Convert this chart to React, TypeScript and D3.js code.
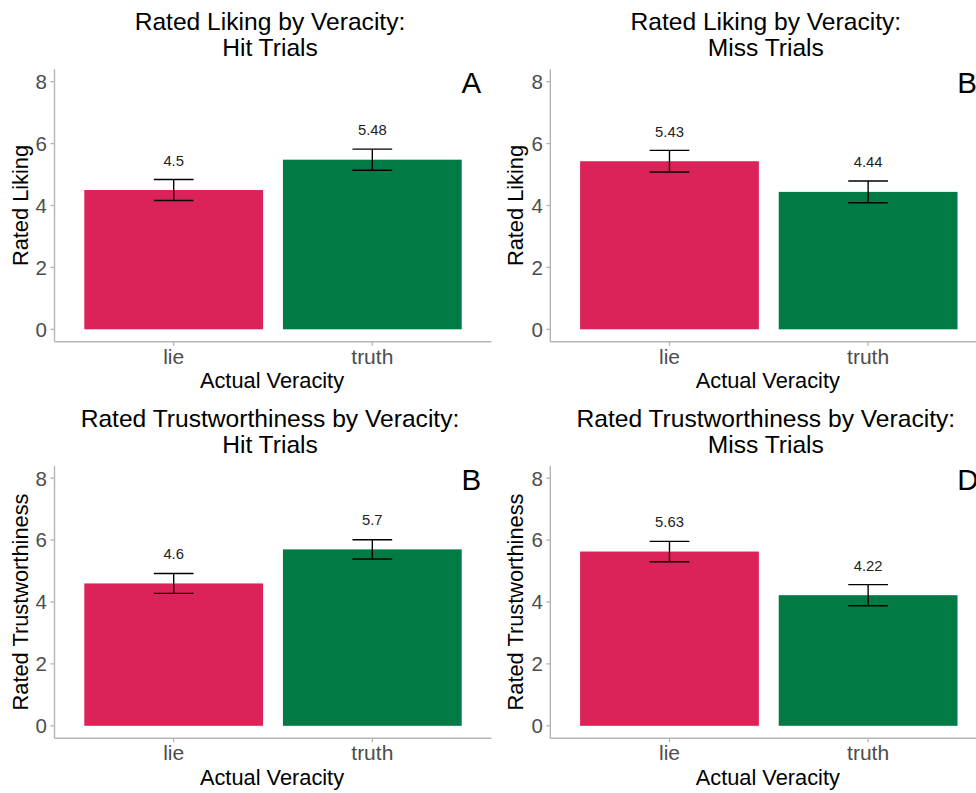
import React from "react";
import * as d3 from "d3";

const categories = ["lie", "truth"];
const likingHit = [4.5, 5.48];
const likingHitSE = [0.34, 0.34];
const likingMiss = [5.43, 4.44];
const likingMissSE = [0.35, 0.35];
const trustHit = [4.6, 5.7];
const trustHitSE = [0.32, 0.31];
const trustMiss = [5.63, 4.22];
const trustMissSE = [0.33, 0.34];
const yTicks = [0, 2, 4, 6, 8];
const valueLabels = [
  ["4.5", "5.48"],
  ["5.43", "4.44"],
  ["4.6", "5.7"],
  ["5.63", "4.22"],
];
const titles = [
  ["Rated Liking by Veracity:", "Hit Trials"],
  ["Rated Liking by Veracity:", "Miss Trials"],
  ["Rated Trustworthiness by Veracity:", "Hit Trials"],
  ["Rated Trustworthiness by Veracity:", "Miss Trials"],
];
const yTitles = ["Rated Liking", "Rated Liking", "Rated Trustworthiness", "Rated Trustworthiness"];
const panelLetters = ["A", "B", "B", "D"];
const xTitle = "Actual Veracity";

const values = [likingHit, likingMiss, trustHit, trustMiss];
const errors = [likingHitSE, likingMissSE, trustHitSE, trustMissSE];

const colors = ["#DC2359", "#017A44"];
const FONT = "'Liberation Sans', Arial, Helvetica, sans-serif";

function Panel({ idx }: { idx: number }) {
  const col = idx % 2;
  const row = Math.floor(idx / 2);
  const dx = col * 495.8;
  const dy = row * 396.5;
  const x0 = 54.5 + dx;
  const x1 = 491.5 + dx;
  const yBottom = 341.7 + dy;
  const yTop = 69.3 + dy;
  const x = d3.scaleBand<string>().domain(categories).range([x0, x1]).paddingInner(0.1).paddingOuter(0.15);
  const y = d3.scaleLinear().domain([-0.4, 8.4]).range([yBottom, yTop]);
  const vals = values[idx];
  const errs = errors[idx];
  const ebw = x.step() * 0.2;
  const cx = (x0 + x1) / 2;
  return (
    <g>
      <text x={cx - 3} y={30 + dy} textAnchor="middle" fontSize={24.6} fill="#000" fontFamily={FONT}>
        {titles[idx][0]}
      </text>
      <text x={cx - 3} y={56 + dy} textAnchor="middle" fontSize={24.6} fill="#000" fontFamily={FONT}>
        {titles[idx][1]}
      </text>
      {categories.map((c, i) => {
        const v = vals[i];
        const bx = x(c)!;
        const bw = x.bandwidth();
        const mx = bx + bw / 2;
        return (
          <g key={c}>
            <rect x={bx} y={y(v)} width={bw} height={y(0) - y(v)} fill={colors[i]} />
            <line x1={mx} x2={mx} y1={y(v + errs[i])} y2={y(v - errs[i])} stroke="#000" strokeWidth={1.4} />
            <line x1={mx - ebw / 2} x2={mx + ebw / 2} y1={y(v + errs[i])} y2={y(v + errs[i])} stroke="#000" strokeWidth={1.4} />
            <line x1={mx - ebw / 2} x2={mx + ebw / 2} y1={y(v - errs[i])} y2={y(v - errs[i])} stroke="#000" strokeWidth={1.4} />
            <text x={mx} y={y(v) - 24.5} textAnchor="middle" fontSize={14.8} fill="#222" fontFamily={FONT}>
              {valueLabels[idx][i]}
            </text>
            <line x1={mx} x2={mx} y1={yBottom} y2={yBottom + 4} stroke="#b5b5b5" strokeWidth={1.3} />
            <text x={mx} y={yBottom + 21.8} textAnchor="middle" fontSize={21} fill="#4d4d4d" fontFamily={FONT}>
              {c}
            </text>
          </g>
        );
      })}
      <line x1={x0} x2={x0} y1={yTop} y2={yBottom} stroke="#b5b5b5" strokeWidth={1.4} />
      <line x1={x0} x2={x1} y1={yBottom} y2={yBottom} stroke="#b5b5b5" strokeWidth={1.4} />
      {yTicks.map((t) => (
        <g key={t}>
          <line x1={x0 - 4} x2={x0} y1={y(t)} y2={y(t)} stroke="#b5b5b5" strokeWidth={1.3} />
          <text x={x0 - 7.5} y={y(t)} dy="0.36em" textAnchor="end" fontSize={20.5} fill="#4d4d4d" fontFamily={FONT}>
            {t}
          </text>
        </g>
      ))}
      <text
        transform={`translate(${27.5 + dx},${(yTop + yBottom) / 2}) rotate(-90)`}
        textAnchor="middle"
        fontSize={21.8}
        fill="#000"
        fontFamily={FONT}
      >
        {yTitles[idx]}
      </text>
      <text x={cx - 1} y={388.3 + dy} textAnchor="middle" fontSize={21.8} fill="#000" fontFamily={FONT}>
        {xTitle}
      </text>
      <text x={461.5 + dx} y={93.3 + dy} fontSize={29.5} fill="#000" fontFamily={FONT}>
        {panelLetters[idx]}
      </text>
    </g>
  );
}

export default function App() {
  return (
    <svg
      width={976}
      height={793}
      style={{ position: "absolute", left: 0, top: 0, background: "#fff" }}
    >
      <rect x={0} y={0} width={976} height={793} fill="#fff" />
      {[0, 1, 2, 3].map((i) => (
        <Panel key={i} idx={i} />
      ))}
    </svg>
  );
}
